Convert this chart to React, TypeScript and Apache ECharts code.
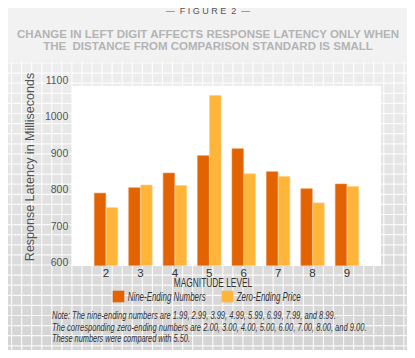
import React, { useEffect, useRef } from "react";
import * as echarts from "echarts";

const categories = ["2", "3", "4", "5", "6", "7", "8", "9"];
const nineEnding = [790, 805, 845, 893, 912, 849, 802, 815];
const zeroEnding = [750, 812, 811, 1058, 843, 836, 763, 808];
const yTickLabels = [600, 700, 800, 900, 1000, 1100];
const seriesNames = ["Nine-Ending Numbers", "Zero-Ending Price"];
const seriesColors = ["#e36300", "#ffb53a"];
const titleLines = [
  "CHANGE IN LEFT DIGIT AFFECTS RESPONSE LATENCY ONLY WHEN",
  "THE  DISTANCE FROM COMPARISON STANDARD IS SMALL",
];
const noteLines = [
  "Note: The nine-ending numbers are 1.99, 2.99, 3.99, 4.99, 5.99, 6.99, 7.99, and 8.99.",
  "The corresponding zero-ending numbers are 2.00, 3.00, 4.00, 5.00, 6.00, 7.00, 8.00, and 9.00.",
  "These numbers were compared with 5.50.",
];
const noteWidths = [284, 315, 138];

const SANS = '"Liberation Sans", Arial, sans-serif';

let measureCtx: CanvasRenderingContext2D | null = null;
function measure(text: string, font: string): number {
  if (!measureCtx) measureCtx = document.createElement("canvas").getContext("2d");
  if (!measureCtx) return text.length * 6;
  measureCtx.font = font;
  return measureCtx.measureText(text).width;
}

function fitText(
  text: string,
  font: string,
  x: number,
  y: number,
  targetWidth: number,
  align: "left" | "center",
  fill: string
) {
  const w = measure(text, font);
  return {
    type: "text",
    x,
    y,
    scaleX: targetWidth / w,
    silent: true,
    style: { text, font, fill, textAlign: align, textVerticalAlign: "middle" },
  };
}

export default function App() {
  const ref = useRef<HTMLDivElement>(null);
  useEffect(() => {
    if (!ref.current) return;
    const chart = echarts.init(ref.current, undefined, { renderer: "svg" });
    const W = 415;
    const H = 358;
    const gridTop = 61;
    const bgEls: any[] = [
      { type: "rect", shape: { x: 0, y: 0, width: W, height: H }, style: { fill: "#f2f2f2" }, silent: true },
      {
        type: "rect",
        shape: { x: 0, y: gridTop, width: W, height: H - gridTop },
        style: {
          fill: new echarts.graphic.LinearGradient(0, 0, 0, 1, [
            { offset: 0, color: "#eeeeee" },
            { offset: 1, color: "#d3d3d3" },
          ]),
        },
        silent: true,
      },
    ];
    for (let x = 1.5; x < W; x += 10.06) {
      bgEls.push({
        type: "line",
        shape: { x1: x, y1: gridTop, x2: x, y2: H },
        style: { stroke: "rgba(255,255,255,0.85)", lineWidth: 1.2 },
        silent: true,
      });
    }
    for (let y = 63; y < H; y += 10.1) {
      bgEls.push({
        type: "line",
        shape: { x1: 0, y1: y, x2: W, y2: y },
        style: { stroke: "rgba(255,255,255,0.85)", lineWidth: 1.2 },
        silent: true,
      });
    }
    bgEls.push({
      type: "rect",
      shape: { x: 72, y: 86, width: 309, height: 180 },
      style: { fill: "#ffffff" },
      silent: true,
    });

    const legendEls: any[] = [];
    const legendSquares = [112.7, 221.7];
    const legendTextX = [127.7, 236.7];
    const legendTextW = [78, 64];
    seriesNames.forEach((name, i) => {
      legendEls.push({
        type: "rect",
        shape: { x: legendSquares[i], y: 290.7, width: 11.6, height: 11.6 },
        style: { fill: seriesColors[i] },
        silent: true,
      });
      legendEls.push(
        fitText(name, `italic 12px ${SANS}`, legendTextX[i], 296.7, legendTextW[i], "left", "#333")
      );
    });

    const textEls: any[] = [
      {
        type: "text",
        x: 208,
        y: 11,
        silent: true,
        style: {
          text: "—  F I G U R E  2  —",
          fill: "#555",
          font: `9px ${SANS}`,
          textAlign: "center",
          textVerticalAlign: "middle",
        },
      },
      ...titleLines.map((t, i) => ({
        type: "text",
        x: 208,
        y: 33.5 + i * 12.4,
        silent: true,
        style: {
          text: t,
          fill: "#b4b4b4",
          font: `bold 11.5px ${SANS}`,
          textAlign: "center",
          textVerticalAlign: "middle",
        },
      })),
      {
        type: "text",
        x: 30,
        y: 167,
        rotation: Math.PI / 2,
        silent: true,
        style: {
          text: "Response Latency in Milliseconds",
          fill: "#555",
          font: `12.5px ${SANS}`,
          textAlign: "center",
          textVerticalAlign: "middle",
        },
      },
      fitText("MAGNITUDE LEVEL", `12px ${SANS}`, 213, 283, 78.7, "center", "#333"),
      ...noteLines.map((t, i) =>
        fitText(t, `italic 10.8px ${SANS}`, 52, 316 + i * 11.4, noteWidths[i], "left", "#333")
      ),
    ];

    chart.setOption({
      animation: false,
      backgroundColor: "transparent",
      graphic: [...bgEls, ...textEls, ...legendEls],
      grid: { left: 88.8, right: 50.8, top: 80, height: 185.6, containLabel: false },
      xAxis: {
        type: "category",
        data: categories,
        axisLine: { show: false },
        axisTick: { show: false },
        axisLabel: { color: "#333", fontSize: 11.5, fontFamily: SANS, margin: 1 },
        splitLine: { show: false },
      },
      yAxis: {
        type: "value",
        min: 590,
        max: 1100,
        interval: 10,
        axisLine: { show: false },
        axisTick: { show: false },
        splitLine: { show: false },
        axisLabel: {
          color: "#555",
          fontSize: 10.5,
          fontFamily: SANS,
          margin: 20.5,
          formatter: (v: number) => (yTickLabels.includes(v) ? String(v) : ""),
        },
      },
      series: [
        {
          name: seriesNames[0],
          type: "bar",
          data: nineEnding,
          barWidth: 12,
          barGap: "0%",
          itemStyle: { color: seriesColors[0], borderColor: "#ec8a3c", borderWidth: 0.6 },
        },
        {
          name: seriesNames[1],
          type: "bar",
          data: zeroEnding,
          barWidth: 12,
          barGap: "0%",
          itemStyle: { color: seriesColors[1], borderColor: "#ffcc70", borderWidth: 0.6 },
        },
      ],
    });
    return () => chart.dispose();
  }, []);
  return <div ref={ref} style={{ width: 415, height: 358, margin: -8 }} />;
}
